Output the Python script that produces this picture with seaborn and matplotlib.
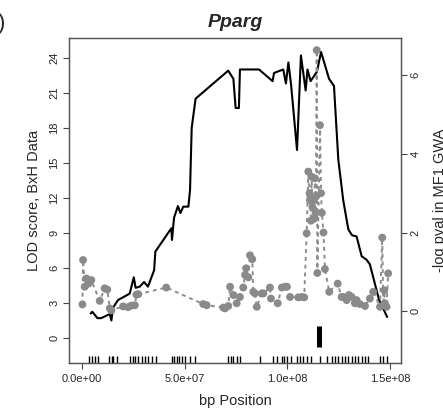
import matplotlib
matplotlib.use("Agg")
import numpy as np
import pandas as pd
import matplotlib.pyplot as plt
import seaborn as sns

# LOD score curve (BxH data), positions in Mb
lod_pos = [4.2, 5.0, 7.5, 9.3, 13.5, 14.3, 15.1, 17.5, 23.2, 25.2, 26.1, 28.1,
           30.2, 32.1, 35.1, 35.7, 43.5, 43.8, 44.8, 46.7, 47.9, 49.3, 51.8,
           52.6, 53.4, 55.3, 71.2, 73.7, 74.8, 76.4, 76.9, 86.2, 92.8, 93.5,
           98.0, 99.3, 100.5, 101.8, 104.7, 106.6, 108.9, 109.8, 111.3, 114.4,
           116.4, 120.3, 122.7, 124.8, 127.2, 129.7, 131.5, 133.7, 136.2,
           138.6, 140.2, 144.6, 148.6]
lod_val = [2.1, 2.25, 1.7, 1.7, 2.05, 1.5, 2.6, 3.25, 3.8, 5.2, 4.3, 4.4,
           4.8, 4.4, 5.8, 7.4, 9.4, 8.4, 10.3, 11.3, 10.7, 11.25, 11.25,
           12.7, 18.0, 20.5, 22.9, 22.2, 19.7, 19.7, 23.0, 23.0, 22.0, 22.7,
           23.0, 21.8, 23.6, 21.7, 16.1, 24.2, 21.2, 23.0, 22.0, 22.8,
           24.5, 22.2, 21.6, 15.3, 11.8, 9.3, 8.8, 8.7, 7.0,
           6.7, 6.3, 3.3, 1.8]

# -log pval in MF1 GWA, positions in Mb
gwa_pos = [0.2, 0.5, 1.3, 2.1, 3.1, 4.5, 8.6, 11.0, 12.3, 13.5, 14.3, 20.0,
           22.4, 24.0, 25.7, 26.5, 27.4, 41.0, 59.0, 60.7, 68.8, 69.6, 71.2,
           72.1, 73.7, 75.3, 76.9, 78.5, 79.4, 79.9, 81.0, 81.8, 82.9, 83.4,
           84.2, 85.1, 87.5, 88.3, 91.5, 92.0, 95.3, 97.3, 98.9, 99.8, 101.3,
           105.3, 107.0, 108.2, 109.4, 110.2, 110.8, 111.0, 111.5, 111.8,
           112.2, 112.6, 113.0, 113.4, 113.7, 113.9, 114.3, 114.6, 115.9,
           116.4, 116.8, 117.6, 118.3, 120.4, 124.5, 126.4, 127.2, 128.9,
           130.0, 131.3, 132.9, 133.7, 135.3, 137.8, 140.2, 141.8, 145.1,
           146.2, 146.7, 147.2, 147.5, 148.3, 149.1]
gwa_val = [0.17, 1.30, 0.62, 0.83, 0.70, 0.79, 0.26, 0.58, 0.55, 0.07, 0.02,
           0.12, 0.10, 0.14, 0.15, 0.42, 0.43, 0.60, 0.18, 0.15, 0.09, 0.07,
           0.13, 0.62, 0.41, 0.20, 0.36, 0.60, 0.92, 1.09, 0.86, 1.42, 1.32,
           0.49, 0.45, 0.11, 0.45, 0.45, 0.60, 0.32, 0.20, 0.60, 0.62, 0.62,
           0.36, 0.35, 0.36, 0.35, 1.98, 3.55, 3.0, 2.82, 2.30, 3.42, 2.65,
           2.87, 2.35, 3.38, 2.50, 2.91, 6.64, 0.97, 4.73, 3.0, 2.5, 2.0,
           1.07, 0.49, 0.70, 0.36, 0.36, 0.28, 0.41, 0.36, 0.20, 0.28, 0.18,
           0.13, 0.32, 0.49, 0.11, 1.87, 0.15, 0.53, 0.20, 0.11, 0.96]

# marker positions (rug), Mb
rug_pos = [3.6, 4.9, 6.2, 7.6, 13.3, 14.5, 15.2, 16.9, 23.4, 24.7, 25.9, 27.4,
           29.0, 30.7, 32.3, 33.9, 36.0, 43.7, 44.8, 46.1, 47.4, 48.7, 50.1,
           52.6, 55.0, 71.2, 72.4, 73.7, 75.6, 76.9, 86.7, 93.1, 94.8, 97.2,
           98.3, 100.0, 101.6, 104.8, 106.1, 107.7, 109.4, 111.3, 115.9,
           119.1, 121.6, 123.2, 124.8, 126.4, 128.0, 129.7, 131.3, 132.9,
           134.5, 136.2, 137.8, 139.4, 145.1, 146.7, 148.3]

gene_pos = 115.4  # Pparg location, Mb
gene_span = [-0.8, 1.0]

lod = pd.DataFrame({"pos": np.array(lod_pos) * 1e6, "lod": lod_val})
gwa = pd.DataFrame({"pos": np.array(gwa_pos) * 1e6, "p": gwa_val})

sns.set_style("white")
plt.rcParams["font.family"] = ["Liberation Sans", "DejaVu Sans"]

fig = plt.figure(figsize=(4.43, 4.17), dpi=100)
ax = fig.add_axes([0.156, 0.1295, 0.749, 0.7795])
ax2 = ax.twinx()

sns.lineplot(data=lod, x="pos", y="lod", ax=ax, color="black", lw=1.5,
             estimator=None, sort=False, zorder=3)
sns.rugplot(x=np.array(rug_pos) * 1e6, ax=ax, height=0.022, color="black",
            lw=0.8)
ax.vlines(gene_pos * 1e6, gene_span[0], gene_span[1], color="black", lw=3.6)

sns.lineplot(data=gwa, x="pos", y="p", ax=ax2, color="#8c8c8c", lw=1.4,
             estimator=None, sort=False, dashes=False, linestyle=(0, (2, 2)))
sns.scatterplot(data=gwa, x="pos", y="p", ax=ax2, color="#8a8a8a", s=32,
                edgecolor="none", zorder=4)

ax.set_xlim(-6.3e6, 155.3e6)
ax.set_ylim(-2.14, 25.7)
ax2.set_ylim(-1.32, 6.95)
ax.set_xticks([0, 5e7, 1e8, 1.5e8])
ax.set_xticklabels(["0.0e+00", "5.0e+07", "1.0e+08", "1.5e+08"])
ax.set_yticks([0, 3, 6, 9, 12, 15, 18, 21, 24])
ax2.set_yticks([0, 2, 4, 6])

for a in (ax, ax2):
    a.tick_params(labelsize=8, length=4, width=0.8, color="#444444",
                  direction="out")
    for s in a.spines.values():
        s.set_color("#555555")
        s.set_linewidth(0.9)
ax.tick_params(axis="y", labelrotation=90, pad=3)
ax2.tick_params(axis="y", labelrotation=90, pad=3)
for t in ax.get_yticklabels() + ax2.get_yticklabels():
    t.set_va("center")
ax.tick_params(axis="x", pad=4)
ax.tick_params(left=True, bottom=True)
ax2.tick_params(right=True)

ax.set_xlabel("bp Position", fontsize=10.5, labelpad=7)
ax.set_ylabel("LOD score, BxH Data", fontsize=10.5, labelpad=6)
ax2.set_ylabel("-log pval in MF1 GWA", fontsize=10.5, labelpad=9)
ax.set_title("Pparg", fontsize=14, fontweight="bold", style="italic", pad=8)

# panel letter, cut off at the left edge as in the source figure
fig.text(-0.005, 0.93, ")", fontsize=16)

fig.savefig("out.png", dpi=100)
